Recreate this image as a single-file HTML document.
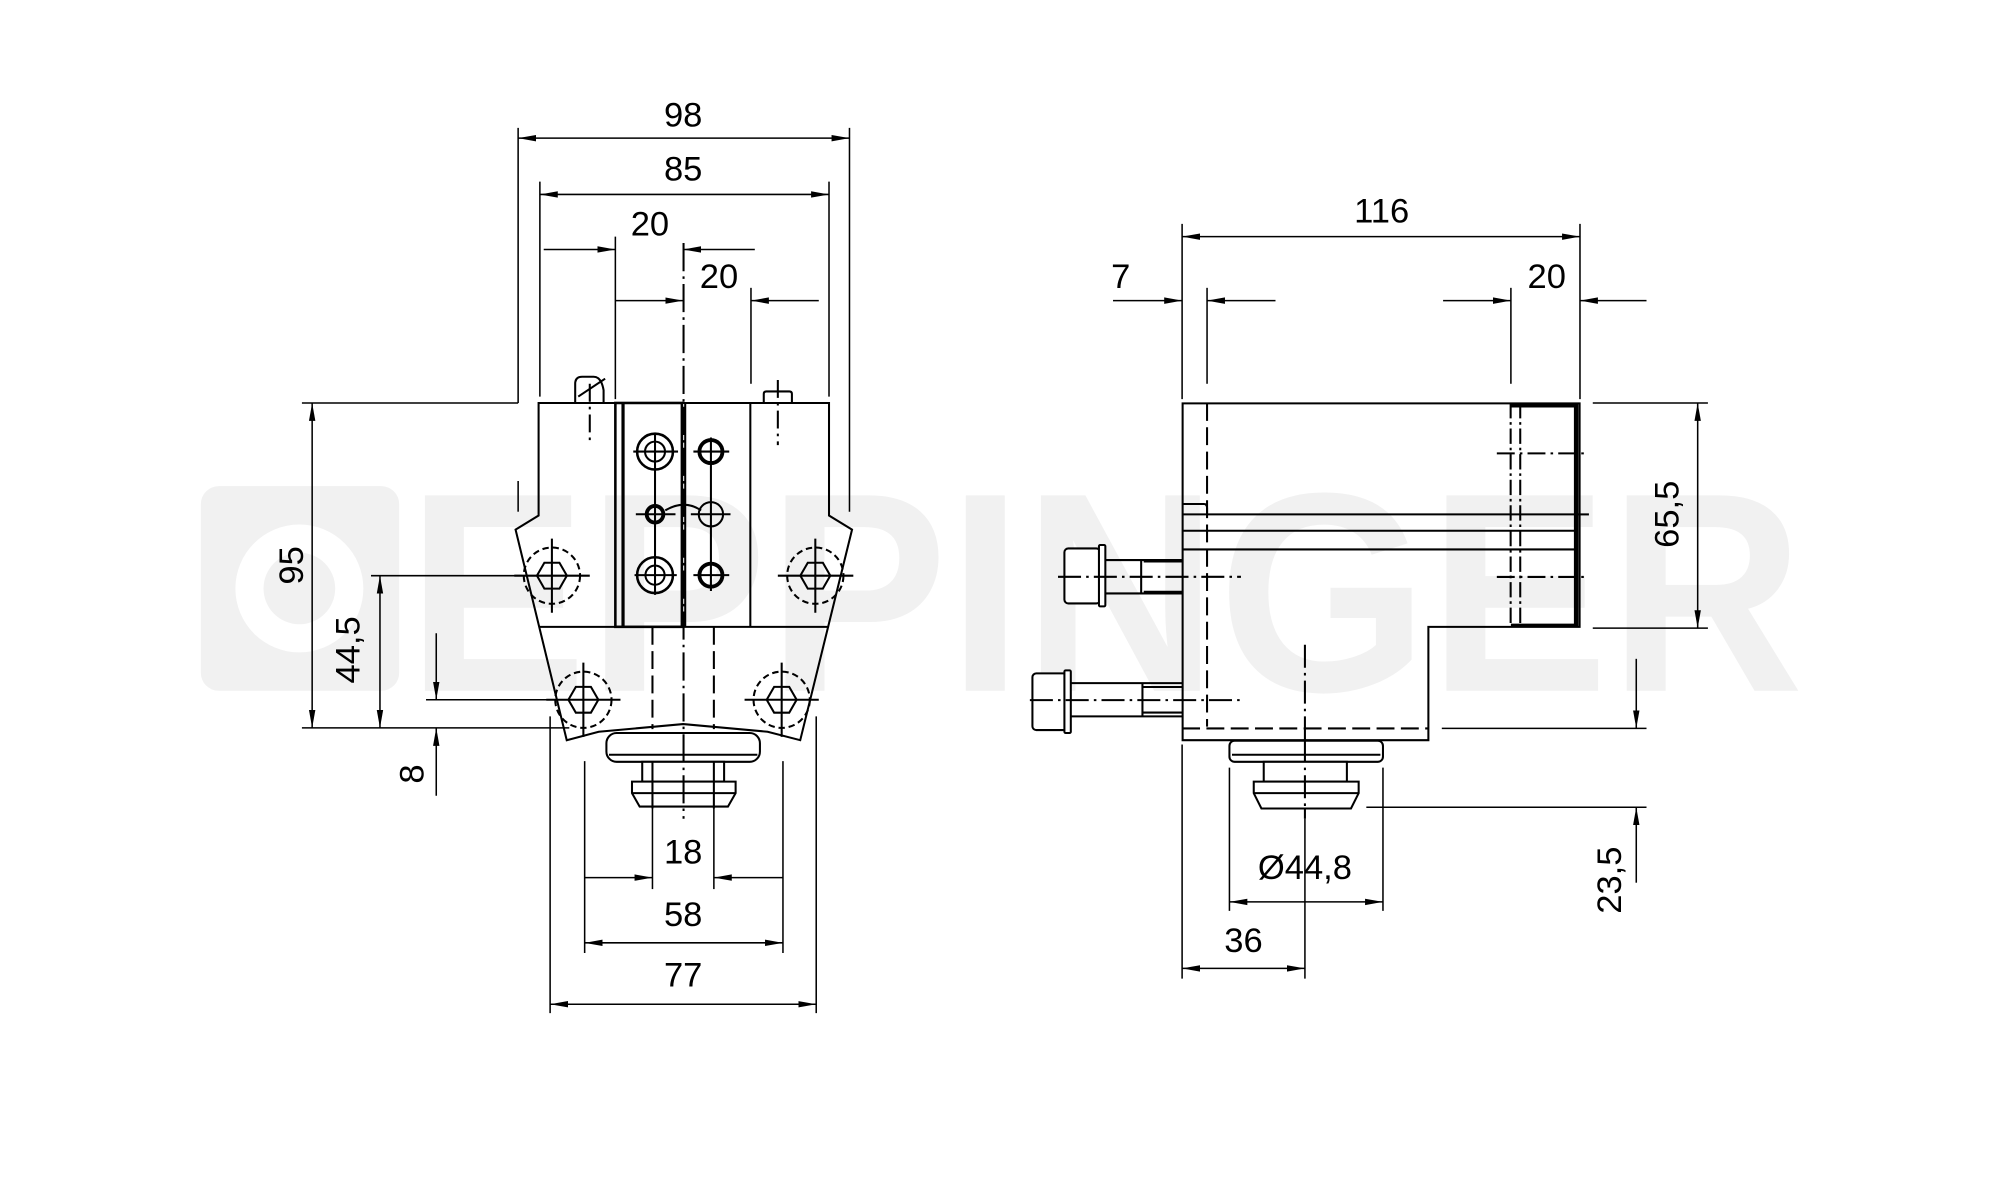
<!DOCTYPE html>
<html><head><meta charset="utf-8"><style>
html,body{margin:0;padding:0;background:#fff}
svg{display:block}
text{font-family:"Liberation Sans",sans-serif;fill:#000}
</style></head><body>
<svg width="2006" height="1180" viewBox="0 0 1568 922.4" preserveAspectRatio="none" xmlns="http://www.w3.org/2000/svg">
<defs>
<marker id="a" markerUnits="userSpaceOnUse" markerWidth="16" markerHeight="8" refX="14" refY="4" orient="auto-start-reverse" viewBox="0 0 16 8"><path d="M0,1.5 L14,4 L0,6.5z" fill="#000"/></marker>
</defs>
<rect width="1568" height="922.4" fill="#fff"/>
<!-- watermark -->
<g fill="#f1f1f1">
<rect x="157" y="380" width="155" height="160" rx="14"/>
<text x="318" y="540" font-size="222" font-weight="bold" textLength="1092" lengthAdjust="spacingAndGlyphs" style="fill:#f1f1f1">EPPINGER</text>
</g>
<circle cx="234" cy="460" r="50" fill="#fff"/><circle cx="234" cy="460" r="28" fill="#f1f1f1"/>

<g stroke="#000" stroke-width="1.6" fill="none">
<!-- FRONT VIEW body -->
<path d="M421,315 H648 V403 L666,414 L625.5,578.6 L600,572 L534,566 L468,572 L443,578.6 L403,414 L421,403 Z"/>
<line x1="421" y1="490" x2="648" y2="490"/>
<rect x="481" y="315" width="52" height="175" stroke-width="2"/>
<line x1="487" y1="315" x2="487" y2="490" stroke-width="2.5"/>
<line x1="535.6" y1="315" x2="535.6" y2="490"/>
<line x1="586.5" y1="315" x2="586.5" y2="490"/>
<path d="M449.6,315 V300 Q449.6,294.5 455,294.5 H464 Q470,294.5 471.8,305 V315"/>
<line x1="452" y1="310" x2="473" y2="296"/>
<path d="M597,315 V308 Q597,306 599,306 H617 Q619,306 619,308 V315"/>
<!-- circles -->
<circle cx="512" cy="353" r="14" stroke-width="2"/><circle cx="512" cy="353" r="7.8"/>
<circle cx="512" cy="402" r="6.5" stroke-width="3"/>
<circle cx="512" cy="449.6" r="14" stroke-width="2"/><circle cx="512" cy="449.6" r="7.5"/>
<circle cx="555.7" cy="353" r="9" stroke-width="3"/>
<circle cx="555.7" cy="402" r="9.5"/>
<circle cx="555.7" cy="449.6" r="9" stroke-width="3"/>
<line x1="512" y1="340" x2="512" y2="465"/><line x1="555.7" y1="342" x2="555.7" y2="462"/>
<line x1="495" y1="353" x2="530" y2="353"/><line x1="497" y1="402" x2="528" y2="402"/><line x1="496" y1="449.6" x2="529" y2="449.6"/>
<line x1="542" y1="353" x2="570" y2="353"/><line x1="540" y1="402" x2="571" y2="402"/><line x1="542" y1="449.6" x2="570" y2="449.6"/>
<path d="M520,399 Q535,390 548,399"/>
<!-- bolts -->
<g stroke-dasharray="5,3">
<circle cx="431.4" cy="450" r="22"/><circle cx="637.3" cy="450" r="22"/>
<circle cx="456" cy="547" r="22"/><circle cx="611" cy="547" r="22"/>
</g>
<path d="M419.7,450 L425.5,439.9 L437.3,439.9 L443.1,450 L437.3,460.1 L425.5,460.1Z"/>
<path d="M625.6,450 L631.4,439.9 L643.2,439.9 L649,450 L643.2,460.1 L631.4,460.1Z"/>
<path d="M444.3,547 L450.1,536.9 L461.9,536.9 L467.7,547 L461.9,557.1 L450.1,557.1Z"/>
<path d="M599.3,547 L605.1,536.9 L616.9,536.9 L622.7,547 L616.9,557.1 L605.1,557.1Z"/>
<line x1="402" y1="450" x2="461" y2="450"/><line x1="431.4" y1="421" x2="431.4" y2="479"/>
<line x1="608" y1="450" x2="667" y2="450"/><line x1="637.3" y1="421" x2="637.3" y2="479"/>
<line x1="427" y1="547" x2="485" y2="547"/><line x1="456" y1="518" x2="456" y2="576"/>
<line x1="582" y1="547" x2="640" y2="547"/><line x1="611" y1="518" x2="611" y2="576"/>
<!-- knob -->
<rect x="474" y="573" width="120" height="22.5" rx="8" fill="#fff"/>
<line x1="476" y1="590" x2="592" y2="590"/>
<rect x="502" y="595.5" width="64" height="15.5" fill="#fff"/>
<path d="M494,611 H575 V620 L569,630.5 H500 L494,620Z" fill="#fff"/>
<line x1="494" y1="620" x2="575" y2="620"/>
<line x1="510" y1="595" x2="510" y2="632"/><line x1="558" y1="595" x2="558" y2="632"/>
<!-- center lines -->
<line x1="534.3" y1="190" x2="534.3" y2="640" stroke-dasharray="22,4,2,4"/>
<line x1="461" y1="300" x2="461" y2="345" stroke-dasharray="14,4,2,4"/>
<line x1="608" y1="297" x2="608" y2="348" stroke-dasharray="14,4,2,4"/>
<line x1="510" y1="490" x2="510" y2="570" stroke-dasharray="14,5"/>
<line x1="558" y1="490" x2="558" y2="570" stroke-dasharray="14,5"/>

<!-- front dims ext lines -->
<g stroke-width="1.2">
<line x1="405" y1="100" x2="405" y2="315"/><line x1="405" y1="376" x2="405" y2="400"/>
<line x1="664" y1="100" x2="664" y2="400"/>
<line x1="422" y1="142" x2="422" y2="310"/><line x1="648" y1="142" x2="648" y2="310"/>
<line x1="481" y1="185" x2="481" y2="312"/><line x1="587" y1="225" x2="587" y2="300"/>
<line x1="236" y1="315" x2="405" y2="315"/>
<line x1="236" y1="569" x2="445" y2="569"/>
<line x1="290" y1="450" x2="408" y2="450"/>
<line x1="333" y1="547" x2="432" y2="547"/>
<line x1="457" y1="595" x2="457" y2="745"/><line x1="612" y1="595" x2="612" y2="745"/>
<line x1="430" y1="560" x2="430" y2="792"/><line x1="638" y1="560" x2="638" y2="792"/>
<line x1="510" y1="632" x2="510" y2="695"/><line x1="558" y1="632" x2="558" y2="695"/>
</g>
<g stroke-width="1.2">
<line x1="405" y1="108" x2="664" y2="108" marker-start="url(#a)" marker-end="url(#a)"/>
<line x1="422" y1="152" x2="648" y2="152" marker-start="url(#a)" marker-end="url(#a)"/>
<line x1="425" y1="195" x2="481" y2="195" marker-end="url(#a)"/>
<line x1="590" y1="195" x2="534" y2="195" marker-end="url(#a)"/>
<line x1="481" y1="235" x2="534" y2="235" marker-end="url(#a)"/>
<line x1="640" y1="235" x2="587" y2="235" marker-end="url(#a)"/>
<line x1="244" y1="315" x2="244" y2="569" marker-start="url(#a)" marker-end="url(#a)"/>
<line x1="297" y1="450" x2="297" y2="569" marker-start="url(#a)" marker-end="url(#a)"/>
<line x1="341" y1="495" x2="341" y2="547" marker-end="url(#a)"/>
<line x1="341" y1="622" x2="341" y2="569" marker-end="url(#a)"/>
<line x1="457" y1="686" x2="510" y2="686" marker-end="url(#a)"/>
<line x1="612" y1="686" x2="558" y2="686" marker-end="url(#a)"/>
<line x1="457" y1="737" x2="612" y2="737" marker-start="url(#a)" marker-end="url(#a)"/>
<line x1="430" y1="785" x2="638" y2="785" marker-start="url(#a)" marker-end="url(#a)"/>
</g>

<!-- SIDE VIEW -->
<path d="M924.4,315.3 H1234.7 V490 H1116.5 V578.6 H924.4 Z"/>
<line x1="924" y1="402.1" x2="1232" y2="402.1"/>
<line x1="924" y1="414.9" x2="1232" y2="414.9"/>
<line x1="924" y1="429.5" x2="1232" y2="429.5"/>
<path d="M924,394 H941 Q943.5,394 943.5,397 V402"/>
<line x1="1232" y1="315" x2="1232" y2="490" stroke-width="3.5"/>
<line x1="1180.8" y1="315" x2="1180.8" y2="490" stroke-dasharray="12,3,2,3"/>
<line x1="1188.3" y1="315" x2="1188.3" y2="490" stroke-dasharray="12,3,2,3"/>
<line x1="1181" y1="317" x2="1232" y2="317" stroke-width="3"/>
<line x1="1181" y1="489" x2="1232" y2="489" stroke-width="3"/>
<line x1="1170" y1="354.4" x2="1242" y2="354.4" stroke-dasharray="14,4,2,4"/>
<line x1="1170" y1="451" x2="1242" y2="451" stroke-dasharray="14,4,2,4"/>
<line x1="1232" y1="402.1" x2="1242" y2="402.1"/>
<line x1="943.5" y1="315" x2="943.5" y2="568" stroke-dasharray="14,5"/>
<line x1="924" y1="569.4" x2="1116" y2="569.4" stroke-dasharray="14,5"/>
<line x1="1020" y1="504" x2="1020" y2="638" stroke-dasharray="18,4,2,4"/>
<!-- side bolts -->
<rect x="832" y="428.7" width="28" height="43" rx="3" fill="#fff"/>
<rect x="859" y="426" width="5" height="48" rx="1" fill="#fff"/>
<path d="M864,437.8 H924 M864,463.9 H924 M892,437.8 V463.9" />
<line x1="894" y1="438.5" x2="924" y2="438.5" stroke-width="2.5"/><line x1="894" y1="463" x2="924" y2="463" stroke-width="2.5"/>
<rect x="807" y="526.4" width="27" height="44.3" rx="3" fill="#fff"/>
<rect x="832" y="524" width="5" height="49" rx="1" fill="#fff"/>
<path d="M837,534 H924 M837,560 H924 M893,534 V560 M893,537 H924 M893,557 H924"/>
<line x1="827" y1="450.9" x2="970" y2="450.9" stroke-dasharray="18,4,2,4"/>
<line x1="805" y1="547.3" x2="972" y2="547.3" stroke-dasharray="18,4,2,4"/>
<!-- side knob -->
<rect x="961" y="579" width="120" height="16.5" rx="4" fill="#fff"/>
<line x1="963" y1="590" x2="1079" y2="590"/>
<rect x="987.8" y="595.5" width="65" height="15.5" fill="#fff"/>
<path d="M980,611 H1062 V620 L1056,632 H986 L980,620Z" fill="#fff"/>
<line x1="980" y1="620" x2="1062" y2="620"/>
<line x1="1020" y1="578" x2="1020" y2="640" stroke-dasharray="18,4,2,4"/>

<!-- side dims -->
<g stroke-width="1.2">
<line x1="924" y1="175" x2="924" y2="312"/><line x1="1235" y1="175" x2="1235" y2="312"/>
<line x1="943.5" y1="225" x2="943.5" y2="300"/><line x1="1181" y1="225" x2="1181" y2="300"/>
<line x1="1245" y1="315" x2="1335" y2="315"/><line x1="1245" y1="491" x2="1335" y2="491"/>
<line x1="1127" y1="569.4" x2="1287" y2="569.4"/><line x1="1068" y1="631" x2="1287" y2="631"/>
<line x1="961" y1="600" x2="961" y2="712"/><line x1="1081" y1="600" x2="1081" y2="712"/>
<line x1="924" y1="582" x2="924" y2="765"/><line x1="1020" y1="640" x2="1020" y2="765"/>
<line x1="924" y1="185" x2="1235" y2="185" marker-start="url(#a)" marker-end="url(#a)"/>
<line x1="870" y1="235" x2="924" y2="235" marker-end="url(#a)"/>
<line x1="997" y1="235" x2="943.5" y2="235" marker-end="url(#a)"/>
<line x1="1128" y1="235" x2="1181" y2="235" marker-end="url(#a)"/>
<line x1="1287" y1="235" x2="1235" y2="235" marker-end="url(#a)"/>
<line x1="1327" y1="315" x2="1327" y2="491" marker-start="url(#a)" marker-end="url(#a)"/>
<line x1="1279" y1="515" x2="1279" y2="569.4" marker-end="url(#a)"/>
<line x1="1279" y1="690" x2="1279" y2="631" marker-end="url(#a)"/>
<line x1="961" y1="705" x2="1081" y2="705" marker-start="url(#a)" marker-end="url(#a)"/>
<line x1="924" y1="757" x2="1020" y2="757" marker-start="url(#a)" marker-end="url(#a)"/>
</g>
</g>

<g font-size="27" text-anchor="middle">
<text x="534" y="99">98</text>
<text x="534" y="141">85</text>
<text x="508" y="184">20</text>
<text x="562" y="225">20</text>
<text x="534" y="675">18</text>
<text x="534" y="724">58</text>
<text x="534" y="771">77</text>
<text transform="translate(237,442) rotate(-90)">95</text>
<text transform="translate(281,508) rotate(-90)">44,5</text>
<text transform="translate(331,605) rotate(-90)">8</text>
<text x="1080" y="174">116</text>
<text x="876" y="225">7</text>
<text x="1209" y="225">20</text>
<text transform="translate(1312,402) rotate(-90)">65,5</text>
<text transform="translate(1267,688) rotate(-90)">23,5</text>
<text x="1020" y="687">Ø44,8</text>
<text x="972" y="744">36</text>
</g>
</svg>
</body></html>
